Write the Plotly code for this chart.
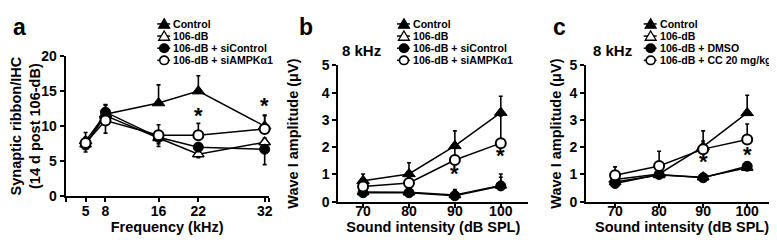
import plotly.graph_objects as go

# ---------------- data ----------------
freq_khz = [5, 8, 16, 22, 32]
a_control = [7.9, 11.7, 13.3, 15.0, 10.0]
a_control_up = [1.2, 1.4, 2.6, 2.2, 1.5]
a_106db = [7.4, 11.5, 8.3, 6.0, 7.7]
a_106db_up = [0.6, 0.6, 0.5, 0.5, 0.6]
a_106db_dn = [0.6, 0.0, 0.8, 0.5, 0.0]
a_sictrl = [7.3, 12.0, 8.4, 7.0, 6.7]
a_sictrl_up = [0.6, 1.0, 0.6, 0.6, 0.6]
a_sictrl_dn = [1.0, 0.0, 0.0, 0.0, 2.2]
a_siampk = [7.6, 10.8, 8.7, 8.7, 9.6]
a_siampk_up = [0.8, 0.8, 1.5, 1.7, 2.0]
a_siampk_dn = [0.8, 1.8, 1.6, 0.0, 0.0]
a_star_x = [22, 32]
a_star_y = [11.5, 12.9]

intensity_db = [70, 80, 90, 100]
b_control = [0.77, 1.02, 2.05, 3.27]
b_control_up = [0.25, 0.41, 0.55, 0.6]
b_106db = [0.36, 0.35, 0.25, 0.6]
b_106db_up = [0.12, 0.1, 0.15, 0.3]
b_sictrl = [0.33, 0.33, 0.22, 0.58]
b_sictrl_up = [0.1, 0.1, 0.23, 0.44]
b_siampk = [0.56, 0.69, 1.53, 2.15]
b_siampk_up = [0.2, 0.2, 0.5, 1.0]
b_star_x = [90, 100]
b_star_y = [1.05, 1.68]

c_control = [0.82, 1.02, 2.02, 3.26]
c_control_up = [0.3, 0.3, 0.58, 0.65]
c_106db = [0.72, 0.98, 0.9, 1.25]
c_106db_up = [0.1, 0.1, 0.1, 0.15]
c_dmso = [0.67, 1.0, 0.88, 1.3]
c_dmso_up = [0.1, 0.1, 0.1, 0.15]
c_cc = [0.97, 1.31, 1.93, 2.28]
c_cc_up = [0.31, 0.54, 0.3, 0.57]
c_star_x = [90, 100]
c_star_y = [1.47, 1.74]

legend_a = ["Control", "106-dB", "106-dB + siControl", "106-dB + siAMPK\u03b11"]
legend_c = ["Control", "106-dB", "106-dB + DMSO", "106-dB + CC 20 mg/kg"]

# ---------------- layout helpers ----------------
W, H = 777, 240
FONT = "Liberation Sans, Arial, Helvetica, sans-serif"


def px(x):
    return x / W


def py(y):
    return 1 - y / H


fig = go.Figure()

styles = {
    "Control": dict(symbol="triangle-up", size=11, color="black", line=dict(color="black", width=1)),
    "106-dB": dict(symbol="triangle-up", size=10, color="white", line=dict(color="black", width=1.5)),
    "filled": dict(symbol="circle", size=10, color="black", line=dict(color="black", width=1)),
    "open": dict(symbol="circle", size=10, color="white", line=dict(color="black", width=2)),
}


def add(x, y, up, dn, style, xa, ya, name):
    err = dict(type="data", array=up, symmetric=False, color="black", thickness=1.6, width=2)
    err["arrayminus"] = dn if dn is not None else [0] * len(y)
    fig.add_trace(go.Scatter(
        x=x, y=y, mode="lines+markers", name=name, showlegend=False,
        line=dict(color="black", width=1.5), marker=styles[style],
        error_y=err, xaxis=xa, yaxis=ya, cliponaxis=False))


add(freq_khz, a_control, a_control_up, None, "Control", "x", "y", "Control")
add(freq_khz, a_106db, a_106db_up, a_106db_dn, "106-dB", "x", "y", "106-dB")
add(freq_khz, a_sictrl, a_sictrl_up, a_sictrl_dn, "filled", "x", "y", legend_a[2])
add(freq_khz, a_siampk, a_siampk_up, a_siampk_dn, "open", "x", "y", legend_a[3])

add(intensity_db, b_control, b_control_up, None, "Control", "x2", "y2", "Control")
add(intensity_db, b_106db, b_106db_up, None, "106-dB", "x2", "y2", "106-dB")
add(intensity_db, b_sictrl, b_sictrl_up, None, "filled", "x2", "y2", legend_a[2])
add(intensity_db, b_siampk, b_siampk_up, None, "open", "x2", "y2", legend_a[3])

add(intensity_db, c_control, c_control_up, None, "Control", "x3", "y3", "Control")
add(intensity_db, c_106db, c_106db_up, None, "106-dB", "x3", "y3", "106-dB")
add(intensity_db, c_dmso, c_dmso_up, None, "filled", "x3", "y3", legend_c[2])
add(intensity_db, c_cc, c_cc_up, None, "open", "x3", "y3", legend_c[3])

annotations = []
for xs, ys, xr, yr in [(a_star_x, a_star_y, "x", "y"), (b_star_x, b_star_y, "x2", "y2"),
                       (c_star_x, c_star_y, "x3", "y3")]:
    for xv, yv in zip(xs, ys):
        annotations.append(dict(x=xv, y=yv, xref=xr, yref=yr, text="*", showarrow=False,
                                font=dict(family=FONT, size=22, color="black", weight="bold"),
                                yanchor="middle", yshift=0))

# panel letters and "8 kHz"
for letter, xpx in [("a", 3), ("b", 290), ("c", 546)]:
    annotations.append(dict(x=px(xpx), y=py(12), xref="paper", yref="paper", text=letter,
                            showarrow=False, xanchor="left", yanchor="middle",
                            font=dict(family=FONT, size=23, color="black", weight="bold")))
for xpx in [355, 608]:
    annotations.append(dict(x=px(xpx), y=py(37), xref="paper", yref="paper", text="8 kHz",
                            showarrow=False, xanchor="center", yanchor="middle",
                            font=dict(family=FONT, size=15, color="black", weight="bold")))

# manual legends
shapes = []
kinds = ["Control", "106-dB", "filled", "open"]
legend_rows = [8.5, 21.5, 34.5, 47.5]
for labels, symx, textx in [(legend_a, 157, 165), (legend_a, 398, 406), (legend_c, 646, 654)]:
    for lab, kind, ry in zip(labels, kinds, legend_rows):
        shapes.append(dict(type="line", xref="paper", yref="paper", x0=px(symx - 7), x1=px(symx + 6),
                           y0=py(ry), y1=py(ry), line=dict(color="black", width=1.5)))
        if kind in ("Control", "106-dB"):
            path = "M {} {} L {} {} L {} {} Z".format(px(symx), py(ry - 5.5), px(symx - 5.5), py(ry + 4.5),
                                                       px(symx + 5.5), py(ry + 4.5))
            shapes.append(dict(type="path", xref="paper", yref="paper", path=path,
                               fillcolor="black" if kind == "Control" else "white",
                               line=dict(color="black", width=1.3)))
        else:
            shapes.append(dict(type="circle", xref="paper", yref="paper",
                               x0=px(symx - 4.5), x1=px(symx + 4.5), y0=py(ry + 4.5), y1=py(ry - 4.5),
                               fillcolor="black" if kind == "filled" else "white",
                               line=dict(color="black", width=1.6)))
        annotations.append(dict(x=px(textx), y=py(ry), xref="paper", yref="paper", text=lab,
                                showarrow=False, xanchor="left", yanchor="middle",
                                height=12, borderpad=0,
                                font=dict(family=FONT, size=10.6, color="black", weight="bold")))

axis_common = dict(showline=True, linecolor="black", linewidth=2, ticks="outside", ticklen=4,
                   tickwidth=2, tickcolor="black", showgrid=False, zeroline=False,
                   tickfont=dict(family=FONT, size=14, color="black", weight="bold"))

a_xticks = [2, 5, 8, 16, 22, 32, 32.6]
a_xtext = ["", "5", "8", "16", "22", "32", ""]
bc_xticks = [70, 80, 90, 100]
bc_xtext = ["70", "80", "90", "100"]

title_font = dict(family=FONT, size=14.5, color="black", weight="bold")
ytitle_font = dict(family=FONT, size=14.5, color="black", weight="bold")

fig.update_layout(
    width=W, height=H, margin=dict(l=0, r=0, t=0, b=0),
    paper_bgcolor="white", plot_bgcolor="white", showlegend=False,
    xaxis=dict(domain=[px(58), px(262)], range=[2, 32.6], anchor="y",
               tickvals=a_xticks, ticktext=a_xtext, ticklabelstandoff=-3,
               title=dict(text="Frequency (kHz)", font=title_font, standoff=2), **axis_common),
    yaxis=dict(domain=[py(193), py(43)], range=[0, 20], anchor="x", tickvals=[0, 5, 10, 15, 20],
               title=dict(text="Synaptic ribbon/IHC<br>(14 d post 106-dB)", font=ytitle_font, standoff=4),
               **axis_common),
    xaxis2=dict(domain=[px(332), px(523)], range=[64.6, 106], anchor="y2",
                tickvals=bc_xticks, ticktext=bc_xtext, ticklabelstandoff=-9,
                title=dict(text="Sound intensity (dB SPL)", font=title_font, standoff=2), **axis_common),
    yaxis2=dict(domain=[py(199), py(53)], range=[0, 5], anchor="x2", tickvals=[0, 1, 2, 3, 4, 5],
                title=dict(text="Wave I amplitude (\u03bcV)", font=ytitle_font, standoff=20), **axis_common),
    xaxis3=dict(domain=[px(581), px(774)], range=[63.4, 107], anchor="y3",
                tickvals=bc_xticks, ticktext=bc_xtext, ticklabelstandoff=-9,
                title=dict(text="Sound intensity (dB SPL)", font=title_font, standoff=2), **axis_common),
    yaxis3=dict(domain=[py(199), py(53)], range=[0, 5], anchor="x3", tickvals=[0, 1, 2, 3, 4, 5],
                title=dict(text="Wave I amplitude (\u03bcV)", font=ytitle_font, standoff=4), **axis_common),
    annotations=annotations, shapes=shapes,
)

fig.write_html("out.html")
